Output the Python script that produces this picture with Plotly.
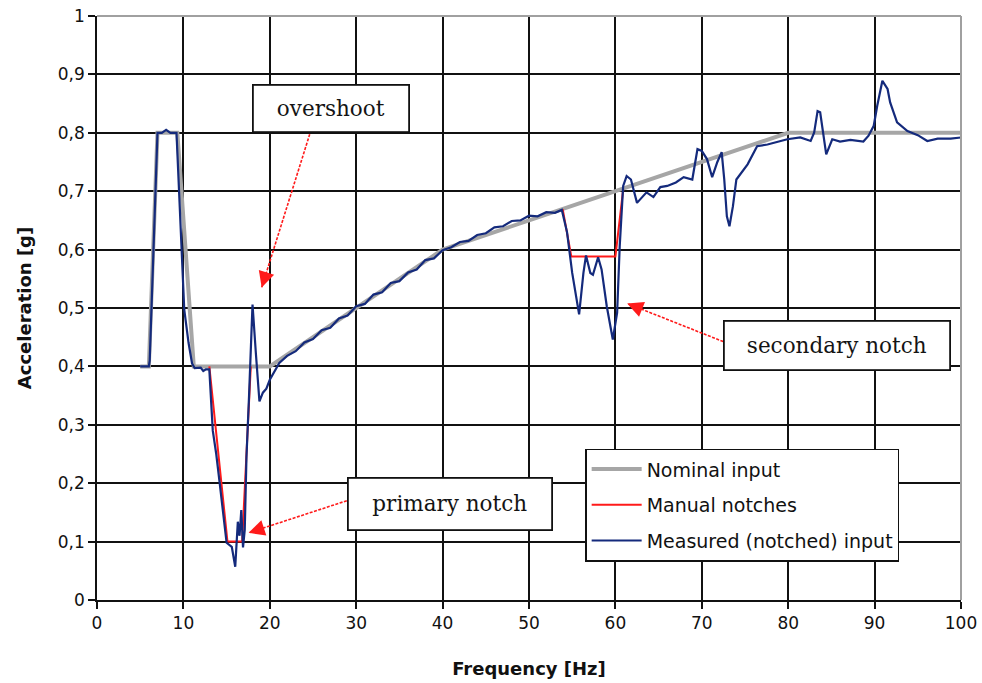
import plotly.graph_objects as go

# Nominal sweep profile
freq_nominal = [5, 6, 7, 9.3, 11.2, 20, 30, 40, 50, 60, 70, 80, 100]
acc_nominal = [0.4, 0.4, 0.8, 0.8, 0.4, 0.4, 0.5, 0.6, 0.65, 0.7, 0.75, 0.8, 0.8]

# Manual notches (two segments, separated by a gap)
freq_notch = [13.0, 15.1, 16.8, 17.8, None, 53.9, 54.9, 60.0, 60.9]
acc_notch = [0.4, 0.1, 0.1, 0.4, None, 0.669, 0.588, 0.588, 0.703]

# Measured (notched) input
freq_meas = [
    5.0, 6.0, 6.1, 6.5, 7.0, 7.5, 8.0, 8.5, 9.2, 10.1, 10.6, 11.0, 11.3, 12.0,
    12.3, 12.6, 13.0, 13.4, 13.8, 14.2, 14.6, 15.0, 15.6, 15.8, 16.0, 16.3, 16.5,
    16.7, 16.9, 17.1, 17.3, 17.6, 17.9, 18.0, 18.4, 18.8, 19.2, 19.6, 20.0, 20.5,
    21.1, 22, 23, 24, 25, 26, 27, 28, 29, 30, 31, 32, 33, 34, 35, 36, 37, 38, 39,
    40, 41, 42, 43, 44, 45, 46, 47, 48, 49, 50, 51, 52, 53, 53.8,
    54.4, 55.0, 55.8, 56.3, 56.6, 57.1, 57.4, 58.0, 58.4, 59.0, 59.7, 60.2, 60.5,
    60.9, 61.3, 61.8, 62.5, 63.6, 64.4, 65.2, 66.0, 67.0, 67.9, 68.9, 69.5, 70.0,
    70.6, 71.2, 71.8, 72.3, 72.6, 72.9, 73.2, 73.6, 74.0, 75.3, 76.4, 77.6, 79.1,
    79.9, 81.4, 82.6, 83.0, 83.4, 83.7, 84.1, 84.4, 85.1, 86.0, 87.2, 88.7, 89.3,
    89.9, 90.3, 90.9, 91.5, 91.8, 92.6, 93.8, 95.0, 96.1, 97.3, 98.8, 100.0,
]
acc_meas = [
    0.400, 0.400, 0.410, 0.600, 0.800, 0.800, 0.805, 0.800, 0.800, 0.497, 0.440,
    0.405, 0.397, 0.398, 0.392, 0.395, 0.395, 0.290, 0.250, 0.200, 0.150, 0.098,
    0.091, 0.075, 0.057, 0.134, 0.110, 0.154, 0.090, 0.120, 0.245, 0.350, 0.450,
    0.506, 0.420, 0.340, 0.355, 0.362, 0.377, 0.390,
    0.406, 0.418, 0.426, 0.441, 0.447, 0.462, 0.466, 0.482, 0.487, 0.503, 0.507,
    0.523, 0.527, 0.543, 0.546, 0.561, 0.566, 0.582, 0.585, 0.599, 0.604, 0.613,
    0.615, 0.625, 0.628, 0.638, 0.640, 0.649, 0.650, 0.658, 0.657, 0.664, 0.663,
    0.668,
    0.630, 0.560, 0.489, 0.560, 0.590, 0.560, 0.557, 0.587, 0.566, 0.503, 0.446,
    0.492, 0.606, 0.709, 0.726, 0.720, 0.680, 0.698, 0.690, 0.707, 0.709, 0.715,
    0.724, 0.720, 0.772, 0.769, 0.755, 0.724, 0.750, 0.767, 0.720, 0.657, 0.640,
    0.674, 0.720, 0.746, 0.777, 0.780, 0.786, 0.789, 0.792, 0.786, 0.800, 0.837,
    0.835, 0.795, 0.763, 0.789, 0.785, 0.788, 0.785, 0.795, 0.812, 0.846, 0.889,
    0.875, 0.852, 0.818, 0.803, 0.796, 0.786, 0.790, 0.790, 0.792,
]

x_ticks = list(range(0, 101, 10))
y_ticks = [i / 10 for i in range(11)]

RED = "#ff1a1a"
SANS = "DejaVu Sans"
SERIF = "DejaVu Serif"

fig = go.Figure()
fig.add_trace(go.Scatter(
    x=freq_nominal, y=acc_nominal, mode="lines", name="Nominal input",
    line=dict(color="#a6a6a6", width=4), legendgroup="a",
))
fig.add_trace(go.Scatter(
    x=freq_notch, y=acc_notch, mode="lines", name="Manual notches",
    line=dict(color=RED, width=2), legendgroup="b",
))
fig.add_trace(go.Scatter(
    x=freq_meas, y=acc_meas, mode="lines", name="Measured (notched) input",
    line=dict(color="#142a7c", width=2.2), legendgroup="c",
))

# Callout boxes
boxes = [
    ("overshoot", 27.06, 0.841, 154, 45),
    ("secondary notch", 85.69, 0.4365, 224, 47),
    ("primary notch", 40.85, 0.1647, 202, 50),
]
for text, bx, by, w, h in boxes:
    fig.add_annotation(
        x=bx, y=by, xref="x", yref="y", text=text, showarrow=False,
        width=w, height=h, align="center", valign="middle",
        font=dict(family=SERIF, size=21.5, color="#141414"),
        bgcolor="white", bordercolor="#111111", borderwidth=1.8, borderpad=0,
    )

# Dashed pointer lines with arrowheads
pointers = [
    ((24.62, 0.7976), (19.06, 0.535)),
    ((72.48, 0.4425), (61.36, 0.5077)),
    ((28.91, 0.170), (17.55, 0.115)),
]
for (x0, y0), (x1, y1) in pointers:
    fig.add_shape(
        type="line", x0=x0, y0=y0, x1=x1, y1=y1, xref="x", yref="y",
        line=dict(color=RED, width=1.6, dash="3px,1.5px"), layer="above",
    )
    fig.add_annotation(
        x=x1, y=y1, ax=x1 + (x0 - x1) * 0.1, ay=y1 + (y0 - y1) * 0.1,
        xref="x", yref="y", axref="x", ayref="y", text="", showarrow=True,
        arrowhead=2, arrowsize=2, arrowwidth=1.6, arrowcolor=RED,
    )

# Light frame on top and right edges of the plot area
fig.add_shape(type="line", xref="paper", yref="paper", x0=0, x1=1, y0=1, y1=1,
              line=dict(color="#a0a0a0", width=2), layer="above")
fig.add_shape(type="line", xref="paper", yref="paper", x0=1, x1=1, y0=0, y1=1,
              line=dict(color="#a0a0a0", width=2), layer="above")

fig.update_layout(
    width=982, height=683,
    margin=dict(l=97, r=21, t=16, b=83),
    paper_bgcolor="white", plot_bgcolor="white",
    separators=", ",
    font=dict(family=SANS, size=16, color="#111111"),
    showlegend=True,
    legend=dict(
        x=0.565, y=0.259, xanchor="left", yanchor="top",
        bgcolor="white", bordercolor="#111111", borderwidth=1.5,
        font=dict(family=SANS, size=19, color="#111111"),
        traceorder="grouped", tracegroupgap=8, itemwidth=50,
    ),
    xaxis=dict(
        range=[0, 100], tickvals=x_ticks, showgrid=True, gridcolor="#111111",
        gridwidth=1.5, zeroline=False, showline=True, linecolor="#111111",
        linewidth=1.5, ticks="outside", ticklen=7, tickwidth=1.5,
        tickcolor="#111111", tickfont=dict(family=SANS, size=17),
        automargin=False,
        title=dict(text="<b>Frequency [Hz]</b>", standoff=30,
                   font=dict(family=SANS, size=18)),
    ),
    yaxis=dict(
        range=[0, 1], tickvals=y_ticks, showgrid=True, gridcolor="#111111",
        gridwidth=1.5, zeroline=False, showline=True, linecolor="#111111",
        linewidth=1.5, ticks="outside", ticklen=7, tickwidth=1.5,
        tickcolor="#111111", tickfont=dict(family=SANS, size=17),
        automargin=False,
        title=dict(text="<b>Acceleration [g]</b>", standoff=22,
                   font=dict(family=SANS, size=18)),
    ),
)

fig.write_html("out.html")
